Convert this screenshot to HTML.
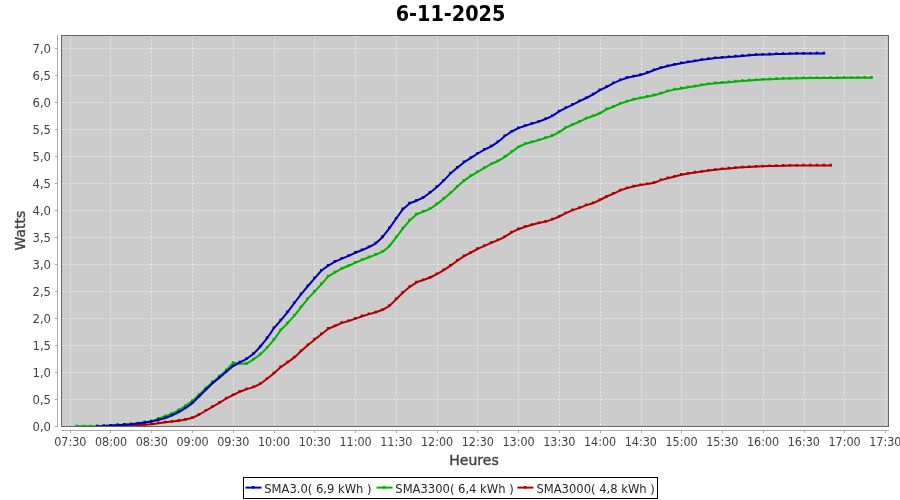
<!DOCTYPE html>
<html lang="fr"><head><meta charset="utf-8"><title>6-11-2025</title>
<style>html,body{margin:0;padding:0;background:#fff;width:900px;height:500px;overflow:hidden}</style></head>
<body>
<svg width="900" height="500" viewBox="0 0 900 500" style="position:absolute;left:0;top:0">
<rect x="0" y="0" width="900" height="500" fill="#ffffff"/>
<rect x="61.5" y="35.5" width="827" height="391" fill="#cccccc"/>
<path d="M70.5,35.3V426M110.5,35.3V426M151.5,35.3V426M192.5,35.3V426M233.5,35.3V426M274.5,35.3V426M314.5,35.3V426M355.5,35.3V426M396.5,35.3V426M437.5,35.3V426M477.5,35.3V426M518.5,35.3V426M559.5,35.3V426M600.5,35.3V426M641.5,35.3V426M681.5,35.3V426M722.5,35.3V426M763.5,35.3V426M804.5,35.3V426M844.5,35.3V426M885.5,35.3V426M61.3,399.5H888M61.3,372.5H888M61.3,345.5H888M61.3,318.5H888M61.3,291.5H888M61.3,264.5H888M61.3,237.5H888M61.3,210.5H888M61.3,183.5H888M61.3,156.5H888M61.3,129.5H888M61.3,102.5H888M61.3,75.5H888M61.3,48.5H888" stroke="#ffffff" stroke-width="1" stroke-dasharray="2 2" fill="none" opacity="0.55"/>
<clipPath id="c"><rect x="61.5" y="35.5" width="827" height="391"/></clipPath>
<g clip-path="url(#c)">
<path d="M97.4,426.5 L104.2,426.3 L111.0,426.2 L117.8,426.0 L124.6,425.9 L131.4,425.7 L138.2,425.2 L145.0,424.7 L151.8,424.2 L158.5,423.2 L165.3,422.3 L172.1,421.6 L178.9,420.7 L185.7,419.5 L192.5,417.8 L199.3,414.5 L206.1,410.5 L212.9,406.6 L219.7,402.6 L226.5,398.4 L233.2,395.0 L240.0,391.7 L246.8,389.1 L253.6,387.1 L260.4,383.8 L267.2,378.8 L274.0,373.3 L280.8,367.1 L287.6,362.4 L294.4,357.4 L301.2,351.1 L308.0,345.1 L314.8,339.4 L321.5,334.2 L328.3,328.7 L335.1,326.0 L341.9,322.9 L348.7,321.0 L355.5,318.6 L362.3,316.2 L369.1,314.1 L375.9,312.3 L382.7,309.8 L389.5,305.9 L396.2,299.2 L403.0,292.5 L409.8,286.8 L416.6,282.3 L423.4,280.0 L430.2,277.5 L437.0,274.1 L443.8,270.1 L450.6,265.6 L457.4,260.7 L464.2,256.2 L471.0,252.5 L477.8,248.8 L484.5,245.8 L491.3,242.8 L498.1,240.1 L504.9,236.8 L511.7,232.3 L518.5,229.2 L525.3,226.7 L532.1,224.8 L538.9,223.0 L545.7,221.6 L552.5,219.4 L559.2,216.5 L566.0,213.2 L572.8,210.1 L579.6,207.9 L586.4,205.1 L593.2,203.2 L600.0,200.0 L606.8,196.5 L613.6,193.7 L620.4,190.3 L627.2,188.1 L634.0,186.3 L640.8,185.0 L647.5,184.0 L654.3,182.7 L661.1,180.1 L667.9,178.2 L674.7,176.5 L681.5,174.7 L688.3,173.5 L695.1,172.4 L701.9,171.6 L708.7,170.6 L715.5,169.8 L722.2,169.0 L729.0,168.4 L735.8,167.8 L742.6,167.2 L749.4,166.9 L756.2,166.6 L763.0,166.3 L769.8,166.1 L776.6,165.9 L783.4,165.7 L790.2,165.6 L797.0,165.5 L803.8,165.4 L810.5,165.4 L817.3,165.4 L824.1,165.4 L830.9,165.4" stroke="#b20000" stroke-width="2" fill="none" stroke-linejoin="round" stroke-linecap="square"/>
<path d="M95.9,424.9h2.5v2.5h-2.5zM102.7,424.7h2.5v2.5h-2.5zM109.5,424.6h2.5v2.5h-2.5zM116.3,424.4h2.5v2.5h-2.5zM123.1,424.3h2.5v2.5h-2.5zM129.9,424.1h2.5v2.5h-2.5zM136.7,423.6h2.5v2.5h-2.5zM143.5,423.1h2.5v2.5h-2.5zM150.2,422.6h2.5v2.5h-2.5zM157.0,421.6h2.5v2.5h-2.5zM163.8,420.7h2.5v2.5h-2.5zM170.6,420.0h2.5v2.5h-2.5zM177.4,419.1h2.5v2.5h-2.5zM184.2,417.9h2.5v2.5h-2.5zM191.0,416.2h2.5v2.5h-2.5zM197.8,412.9h2.5v2.5h-2.5zM204.6,408.9h2.5v2.5h-2.5zM211.4,405.0h2.5v2.5h-2.5zM218.2,401.0h2.5v2.5h-2.5zM225.0,396.8h2.5v2.5h-2.5zM231.8,393.4h2.5v2.5h-2.5zM238.5,390.1h2.5v2.5h-2.5zM245.3,387.5h2.5v2.5h-2.5zM252.1,385.5h2.5v2.5h-2.5zM258.9,382.2h2.5v2.5h-2.5zM265.7,377.2h2.5v2.5h-2.5zM272.5,371.7h2.5v2.5h-2.5zM279.3,365.5h2.5v2.5h-2.5zM286.1,360.8h2.5v2.5h-2.5zM292.9,355.8h2.5v2.5h-2.5zM299.7,349.5h2.5v2.5h-2.5zM306.5,343.5h2.5v2.5h-2.5zM313.2,337.8h2.5v2.5h-2.5zM320.0,332.6h2.5v2.5h-2.5zM326.8,327.1h2.5v2.5h-2.5zM333.6,324.4h2.5v2.5h-2.5zM340.4,321.3h2.5v2.5h-2.5zM347.2,319.4h2.5v2.5h-2.5zM354.0,317.0h2.5v2.5h-2.5zM360.8,314.6h2.5v2.5h-2.5zM367.6,312.5h2.5v2.5h-2.5zM374.4,310.7h2.5v2.5h-2.5zM381.2,308.2h2.5v2.5h-2.5zM388.0,304.3h2.5v2.5h-2.5zM394.8,297.6h2.5v2.5h-2.5zM401.5,290.9h2.5v2.5h-2.5zM408.3,285.2h2.5v2.5h-2.5zM415.1,280.7h2.5v2.5h-2.5zM421.9,278.4h2.5v2.5h-2.5zM428.7,275.9h2.5v2.5h-2.5zM435.5,272.5h2.5v2.5h-2.5zM442.3,268.5h2.5v2.5h-2.5zM449.1,264.0h2.5v2.5h-2.5zM455.9,259.1h2.5v2.5h-2.5zM462.7,254.6h2.5v2.5h-2.5zM469.5,250.9h2.5v2.5h-2.5zM476.2,247.2h2.5v2.5h-2.5zM483.0,244.2h2.5v2.5h-2.5zM489.8,241.2h2.5v2.5h-2.5zM496.6,238.5h2.5v2.5h-2.5zM503.4,235.2h2.5v2.5h-2.5zM510.2,230.7h2.5v2.5h-2.5zM517.0,227.6h2.5v2.5h-2.5zM523.8,225.1h2.5v2.5h-2.5zM530.6,223.2h2.5v2.5h-2.5zM537.4,221.4h2.5v2.5h-2.5zM544.2,220.0h2.5v2.5h-2.5zM551.0,217.8h2.5v2.5h-2.5zM557.8,214.9h2.5v2.5h-2.5zM564.5,211.6h2.5v2.5h-2.5zM571.3,208.5h2.5v2.5h-2.5zM578.1,206.3h2.5v2.5h-2.5zM584.9,203.5h2.5v2.5h-2.5zM591.7,201.6h2.5v2.5h-2.5zM598.5,198.4h2.5v2.5h-2.5zM605.3,194.9h2.5v2.5h-2.5zM612.1,192.1h2.5v2.5h-2.5zM618.9,188.7h2.5v2.5h-2.5zM625.7,186.5h2.5v2.5h-2.5zM632.5,184.7h2.5v2.5h-2.5zM639.2,183.4h2.5v2.5h-2.5zM646.0,182.4h2.5v2.5h-2.5zM652.8,181.1h2.5v2.5h-2.5zM659.6,178.5h2.5v2.5h-2.5zM666.4,176.6h2.5v2.5h-2.5zM673.2,174.9h2.5v2.5h-2.5zM680.0,173.1h2.5v2.5h-2.5zM686.8,171.9h2.5v2.5h-2.5zM693.6,170.8h2.5v2.5h-2.5zM700.4,170.0h2.5v2.5h-2.5zM707.2,169.0h2.5v2.5h-2.5zM714.0,168.2h2.5v2.5h-2.5zM720.8,167.4h2.5v2.5h-2.5zM727.5,166.8h2.5v2.5h-2.5zM734.3,166.2h2.5v2.5h-2.5zM741.1,165.7h2.5v2.5h-2.5zM747.9,165.3h2.5v2.5h-2.5zM754.7,165.0h2.5v2.5h-2.5zM761.5,164.7h2.5v2.5h-2.5zM768.3,164.5h2.5v2.5h-2.5zM775.1,164.3h2.5v2.5h-2.5zM781.9,164.1h2.5v2.5h-2.5zM788.7,164.0h2.5v2.5h-2.5zM795.5,163.9h2.5v2.5h-2.5zM802.2,163.8h2.5v2.5h-2.5zM809.0,163.8h2.5v2.5h-2.5zM815.8,163.8h2.5v2.5h-2.5zM822.6,163.8h2.5v2.5h-2.5zM829.4,163.8h2.5v2.5h-2.5z" fill="#b20000"/>
<path d="M77.0,426.3 L83.8,426.3 L90.6,426.3 L97.4,426.3 L104.2,425.9 L111.0,425.5 L117.8,425.1 L124.6,424.6 L131.4,424.2 L138.2,423.3 L145.0,422.2 L151.8,421.2 L158.5,418.8 L165.3,416.3 L172.1,413.6 L178.9,410.0 L185.7,405.8 L192.5,400.9 L199.3,394.5 L206.1,388.0 L212.9,381.9 L219.7,376.2 L226.5,370.2 L233.2,362.8 L240.0,363.5 L246.8,363.7 L253.6,359.3 L260.4,354.4 L267.2,347.6 L274.0,339.6 L280.8,330.0 L287.6,323.2 L294.4,315.7 L301.2,307.1 L308.0,298.6 L314.8,291.4 L321.5,284.1 L328.3,276.4 L335.1,272.3 L341.9,268.5 L348.7,265.8 L355.5,262.6 L362.3,259.9 L369.1,257.2 L375.9,254.6 L382.7,251.6 L389.5,246.2 L396.2,237.4 L403.0,228.4 L409.8,220.4 L416.6,214.3 L423.4,211.6 L430.2,208.8 L437.0,204.1 L443.8,198.7 L450.6,193.1 L457.4,186.5 L464.2,180.6 L471.0,175.8 L477.8,171.9 L484.5,167.9 L491.3,164.0 L498.1,161.0 L504.9,156.9 L511.7,151.9 L518.5,147.0 L525.3,143.8 L532.1,142.0 L538.9,140.1 L545.7,137.9 L552.5,135.7 L559.2,132.1 L566.0,127.6 L572.8,124.5 L579.6,121.7 L586.4,118.3 L593.2,116.0 L600.0,113.3 L606.8,109.2 L613.6,106.7 L620.4,103.5 L627.2,101.4 L634.0,99.3 L640.8,98.0 L647.5,96.6 L654.3,95.2 L661.1,93.4 L667.9,91.1 L674.7,89.4 L681.5,88.4 L688.3,87.2 L695.1,86.3 L701.9,85.0 L708.7,84.1 L715.5,83.2 L722.2,82.7 L729.0,82.2 L735.8,81.4 L742.6,80.9 L749.4,80.4 L756.2,80.0 L763.0,79.6 L769.8,79.3 L776.6,78.9 L783.4,78.6 L790.2,78.5 L797.0,78.3 L803.8,78.2 L810.5,78.1 L817.3,78.1 L824.1,78.0 L830.9,77.9 L837.7,77.9 L844.5,77.8 L851.3,77.8 L858.1,77.8 L864.9,77.7 L871.7,77.7" stroke="#00b200" stroke-width="2" fill="none" stroke-linejoin="round" stroke-linecap="square"/>
<path d="M75.5,424.7h2.5v2.5h-2.5zM82.3,424.7h2.5v2.5h-2.5zM89.1,424.7h2.5v2.5h-2.5zM95.9,424.7h2.5v2.5h-2.5zM102.7,424.3h2.5v2.5h-2.5zM109.5,423.9h2.5v2.5h-2.5zM116.3,423.5h2.5v2.5h-2.5zM123.1,423.0h2.5v2.5h-2.5zM129.9,422.6h2.5v2.5h-2.5zM136.7,421.7h2.5v2.5h-2.5zM143.5,420.6h2.5v2.5h-2.5zM150.2,419.6h2.5v2.5h-2.5zM157.0,417.2h2.5v2.5h-2.5zM163.8,414.7h2.5v2.5h-2.5zM170.6,412.0h2.5v2.5h-2.5zM177.4,408.4h2.5v2.5h-2.5zM184.2,404.2h2.5v2.5h-2.5zM191.0,399.3h2.5v2.5h-2.5zM197.8,392.9h2.5v2.5h-2.5zM204.6,386.4h2.5v2.5h-2.5zM211.4,380.3h2.5v2.5h-2.5zM218.2,374.6h2.5v2.5h-2.5zM225.0,368.6h2.5v2.5h-2.5zM231.8,361.2h2.5v2.5h-2.5zM238.5,361.9h2.5v2.5h-2.5zM245.3,362.1h2.5v2.5h-2.5zM252.1,357.7h2.5v2.5h-2.5zM258.9,352.8h2.5v2.5h-2.5zM265.7,346.0h2.5v2.5h-2.5zM272.5,338.0h2.5v2.5h-2.5zM279.3,328.4h2.5v2.5h-2.5zM286.1,321.6h2.5v2.5h-2.5zM292.9,314.1h2.5v2.5h-2.5zM299.7,305.5h2.5v2.5h-2.5zM306.5,297.0h2.5v2.5h-2.5zM313.2,289.8h2.5v2.5h-2.5zM320.0,282.5h2.5v2.5h-2.5zM326.8,274.8h2.5v2.5h-2.5zM333.6,270.7h2.5v2.5h-2.5zM340.4,266.9h2.5v2.5h-2.5zM347.2,264.2h2.5v2.5h-2.5zM354.0,261.0h2.5v2.5h-2.5zM360.8,258.3h2.5v2.5h-2.5zM367.6,255.6h2.5v2.5h-2.5zM374.4,253.0h2.5v2.5h-2.5zM381.2,250.0h2.5v2.5h-2.5zM388.0,244.6h2.5v2.5h-2.5zM394.8,235.8h2.5v2.5h-2.5zM401.5,226.8h2.5v2.5h-2.5zM408.3,218.8h2.5v2.5h-2.5zM415.1,212.7h2.5v2.5h-2.5zM421.9,210.0h2.5v2.5h-2.5zM428.7,207.2h2.5v2.5h-2.5zM435.5,202.5h2.5v2.5h-2.5zM442.3,197.1h2.5v2.5h-2.5zM449.1,191.5h2.5v2.5h-2.5zM455.9,184.9h2.5v2.5h-2.5zM462.7,179.0h2.5v2.5h-2.5zM469.5,174.2h2.5v2.5h-2.5zM476.2,170.3h2.5v2.5h-2.5zM483.0,166.3h2.5v2.5h-2.5zM489.8,162.4h2.5v2.5h-2.5zM496.6,159.4h2.5v2.5h-2.5zM503.4,155.3h2.5v2.5h-2.5zM510.2,150.3h2.5v2.5h-2.5zM517.0,145.4h2.5v2.5h-2.5zM523.8,142.2h2.5v2.5h-2.5zM530.6,140.4h2.5v2.5h-2.5zM537.4,138.5h2.5v2.5h-2.5zM544.2,136.3h2.5v2.5h-2.5zM551.0,134.1h2.5v2.5h-2.5zM557.8,130.5h2.5v2.5h-2.5zM564.5,126.0h2.5v2.5h-2.5zM571.3,122.9h2.5v2.5h-2.5zM578.1,120.1h2.5v2.5h-2.5zM584.9,116.7h2.5v2.5h-2.5zM591.7,114.4h2.5v2.5h-2.5zM598.5,111.7h2.5v2.5h-2.5zM605.3,107.6h2.5v2.5h-2.5zM612.1,105.1h2.5v2.5h-2.5zM618.9,101.9h2.5v2.5h-2.5zM625.7,99.8h2.5v2.5h-2.5zM632.5,97.7h2.5v2.5h-2.5zM639.2,96.4h2.5v2.5h-2.5zM646.0,95.0h2.5v2.5h-2.5zM652.8,93.6h2.5v2.5h-2.5zM659.6,91.8h2.5v2.5h-2.5zM666.4,89.5h2.5v2.5h-2.5zM673.2,87.8h2.5v2.5h-2.5zM680.0,86.8h2.5v2.5h-2.5zM686.8,85.6h2.5v2.5h-2.5zM693.6,84.7h2.5v2.5h-2.5zM700.4,83.4h2.5v2.5h-2.5zM707.2,82.5h2.5v2.5h-2.5zM714.0,81.6h2.5v2.5h-2.5zM720.8,81.1h2.5v2.5h-2.5zM727.5,80.6h2.5v2.5h-2.5zM734.3,79.8h2.5v2.5h-2.5zM741.1,79.3h2.5v2.5h-2.5zM747.9,78.8h2.5v2.5h-2.5zM754.7,78.4h2.5v2.5h-2.5zM761.5,78.0h2.5v2.5h-2.5zM768.3,77.7h2.5v2.5h-2.5zM775.1,77.3h2.5v2.5h-2.5zM781.9,77.0h2.5v2.5h-2.5zM788.7,76.9h2.5v2.5h-2.5zM795.5,76.7h2.5v2.5h-2.5zM802.2,76.6h2.5v2.5h-2.5zM809.0,76.5h2.5v2.5h-2.5zM815.8,76.5h2.5v2.5h-2.5zM822.6,76.4h2.5v2.5h-2.5zM829.4,76.3h2.5v2.5h-2.5zM836.2,76.3h2.5v2.5h-2.5zM843.0,76.2h2.5v2.5h-2.5zM849.8,76.2h2.5v2.5h-2.5zM856.6,76.2h2.5v2.5h-2.5zM863.4,76.1h2.5v2.5h-2.5zM870.2,76.1h2.5v2.5h-2.5z" fill="#00b200"/>
<path d="M97.4,426.4 L104.2,426.0 L111.0,425.6 L117.8,425.2 L124.6,424.7 L131.4,424.3 L138.2,423.5 L145.0,422.5 L151.8,421.6 L158.5,419.9 L165.3,418.1 L172.1,415.4 L178.9,412.1 L185.7,408.0 L192.5,403.1 L199.3,396.3 L206.1,389.5 L212.9,383.1 L219.7,377.4 L226.5,371.6 L233.2,366.1 L240.0,362.3 L246.8,358.8 L253.6,353.8 L260.4,346.5 L267.2,338.2 L274.0,328.0 L280.8,320.4 L287.6,312.2 L294.4,303.0 L301.2,294.1 L308.0,286.0 L314.8,278.2 L321.5,270.5 L328.3,265.6 L335.1,261.7 L341.9,258.6 L348.7,255.9 L355.5,252.7 L362.3,250.0 L369.1,247.2 L375.9,243.3 L382.7,236.9 L389.5,228.1 L396.2,218.5 L403.0,209.2 L409.8,203.3 L416.6,200.7 L423.4,197.5 L430.2,192.5 L437.0,186.9 L443.8,180.6 L450.6,173.4 L457.4,167.6 L464.2,162.2 L471.0,157.9 L477.8,153.5 L484.5,149.7 L491.3,146.4 L498.1,141.9 L504.9,136.0 L511.7,131.5 L518.5,128.1 L525.3,125.8 L532.1,123.6 L538.9,121.6 L545.7,119.0 L552.5,115.9 L559.2,111.4 L566.0,107.8 L572.8,104.7 L579.6,101.1 L586.4,98.0 L593.2,94.4 L600.0,90.2 L606.8,86.8 L613.6,83.1 L620.4,80.1 L627.2,77.7 L634.0,76.3 L640.8,74.9 L647.5,72.7 L654.3,70.0 L661.1,67.8 L667.9,66.0 L674.7,64.6 L681.5,63.2 L688.3,62.0 L695.1,61.1 L701.9,59.8 L708.7,58.9 L715.5,58.0 L722.2,57.5 L729.0,57.0 L735.8,56.4 L742.6,55.9 L749.4,55.3 L756.2,54.8 L763.0,54.6 L769.8,54.4 L776.6,54.1 L783.4,53.9 L790.2,53.8 L797.0,53.6 L803.8,53.5 L810.5,53.5 L817.3,53.4 L824.1,53.4" stroke="#0000b2" stroke-width="2" fill="none" stroke-linejoin="round" stroke-linecap="square"/>
<path d="M95.9,424.8h2.5v2.5h-2.5zM102.7,424.4h2.5v2.5h-2.5zM109.5,424.0h2.5v2.5h-2.5zM116.3,423.6h2.5v2.5h-2.5zM123.1,423.1h2.5v2.5h-2.5zM129.9,422.7h2.5v2.5h-2.5zM136.7,421.9h2.5v2.5h-2.5zM143.5,420.9h2.5v2.5h-2.5zM150.2,420.0h2.5v2.5h-2.5zM157.0,418.3h2.5v2.5h-2.5zM163.8,416.5h2.5v2.5h-2.5zM170.6,413.8h2.5v2.5h-2.5zM177.4,410.5h2.5v2.5h-2.5zM184.2,406.4h2.5v2.5h-2.5zM191.0,401.5h2.5v2.5h-2.5zM197.8,394.7h2.5v2.5h-2.5zM204.6,387.9h2.5v2.5h-2.5zM211.4,381.5h2.5v2.5h-2.5zM218.2,375.8h2.5v2.5h-2.5zM225.0,370.0h2.5v2.5h-2.5zM231.8,364.5h2.5v2.5h-2.5zM238.5,360.7h2.5v2.5h-2.5zM245.3,357.2h2.5v2.5h-2.5zM252.1,352.2h2.5v2.5h-2.5zM258.9,344.9h2.5v2.5h-2.5zM265.7,336.6h2.5v2.5h-2.5zM272.5,326.4h2.5v2.5h-2.5zM279.3,318.8h2.5v2.5h-2.5zM286.1,310.6h2.5v2.5h-2.5zM292.9,301.4h2.5v2.5h-2.5zM299.7,292.5h2.5v2.5h-2.5zM306.5,284.4h2.5v2.5h-2.5zM313.2,276.6h2.5v2.5h-2.5zM320.0,268.9h2.5v2.5h-2.5zM326.8,264.0h2.5v2.5h-2.5zM333.6,260.1h2.5v2.5h-2.5zM340.4,257.0h2.5v2.5h-2.5zM347.2,254.3h2.5v2.5h-2.5zM354.0,251.1h2.5v2.5h-2.5zM360.8,248.4h2.5v2.5h-2.5zM367.6,245.6h2.5v2.5h-2.5zM374.4,241.7h2.5v2.5h-2.5zM381.2,235.3h2.5v2.5h-2.5zM388.0,226.5h2.5v2.5h-2.5zM394.8,216.9h2.5v2.5h-2.5zM401.5,207.6h2.5v2.5h-2.5zM408.3,201.7h2.5v2.5h-2.5zM415.1,199.1h2.5v2.5h-2.5zM421.9,195.9h2.5v2.5h-2.5zM428.7,190.9h2.5v2.5h-2.5zM435.5,185.3h2.5v2.5h-2.5zM442.3,179.0h2.5v2.5h-2.5zM449.1,171.8h2.5v2.5h-2.5zM455.9,166.0h2.5v2.5h-2.5zM462.7,160.6h2.5v2.5h-2.5zM469.5,156.3h2.5v2.5h-2.5zM476.2,151.9h2.5v2.5h-2.5zM483.0,148.1h2.5v2.5h-2.5zM489.8,144.8h2.5v2.5h-2.5zM496.6,140.3h2.5v2.5h-2.5zM503.4,134.4h2.5v2.5h-2.5zM510.2,129.9h2.5v2.5h-2.5zM517.0,126.5h2.5v2.5h-2.5zM523.8,124.2h2.5v2.5h-2.5zM530.6,122.0h2.5v2.5h-2.5zM537.4,120.0h2.5v2.5h-2.5zM544.2,117.4h2.5v2.5h-2.5zM551.0,114.3h2.5v2.5h-2.5zM557.8,109.8h2.5v2.5h-2.5zM564.5,106.2h2.5v2.5h-2.5zM571.3,103.1h2.5v2.5h-2.5zM578.1,99.5h2.5v2.5h-2.5zM584.9,96.4h2.5v2.5h-2.5zM591.7,92.8h2.5v2.5h-2.5zM598.5,88.6h2.5v2.5h-2.5zM605.3,85.2h2.5v2.5h-2.5zM612.1,81.5h2.5v2.5h-2.5zM618.9,78.5h2.5v2.5h-2.5zM625.7,76.1h2.5v2.5h-2.5zM632.5,74.7h2.5v2.5h-2.5zM639.2,73.3h2.5v2.5h-2.5zM646.0,71.1h2.5v2.5h-2.5zM652.8,68.4h2.5v2.5h-2.5zM659.6,66.2h2.5v2.5h-2.5zM666.4,64.4h2.5v2.5h-2.5zM673.2,63.0h2.5v2.5h-2.5zM680.0,61.6h2.5v2.5h-2.5zM686.8,60.4h2.5v2.5h-2.5zM693.6,59.5h2.5v2.5h-2.5zM700.4,58.2h2.5v2.5h-2.5zM707.2,57.3h2.5v2.5h-2.5zM714.0,56.4h2.5v2.5h-2.5zM720.8,55.9h2.5v2.5h-2.5zM727.5,55.4h2.5v2.5h-2.5zM734.3,54.8h2.5v2.5h-2.5zM741.1,54.3h2.5v2.5h-2.5zM747.9,53.7h2.5v2.5h-2.5zM754.7,53.2h2.5v2.5h-2.5zM761.5,53.0h2.5v2.5h-2.5zM768.3,52.8h2.5v2.5h-2.5zM775.1,52.5h2.5v2.5h-2.5zM781.9,52.3h2.5v2.5h-2.5zM788.7,52.2h2.5v2.5h-2.5zM795.5,52.0h2.5v2.5h-2.5zM802.2,51.9h2.5v2.5h-2.5zM809.0,51.9h2.5v2.5h-2.5zM815.8,51.8h2.5v2.5h-2.5zM822.6,51.8h2.5v2.5h-2.5z" fill="#0000b2"/>
</g>
<rect x="61.5" y="35.5" width="827" height="391" fill="none" stroke="#666666" stroke-width="1"/>
<path d="M57.5,35V427M55,426.5H57M55,399.5H57M55,372.5H57M55,345.5H57M55,318.5H57M55,291.5H57M55,264.5H57M55,237.5H57M55,210.5H57M55,183.5H57M55,156.5H57M55,129.5H57M55,102.5H57M55,75.5H57M55,48.5H57M61,430.5H889M70.5,431V433M110.5,431V433M151.5,431V433M192.5,431V433M233.5,431V433M274.5,431V433M314.5,431V433M355.5,431V433M396.5,431V433M437.5,431V433M477.5,431V433M518.5,431V433M559.5,431V433M600.5,431V433M641.5,431V433M681.5,431V433M722.5,431V433M763.5,431V433M804.5,431V433M844.5,431V433M885.5,431V433" stroke="#aaaaaa" stroke-width="1" fill="none" shape-rendering="crispEdges"/>
<g font-family="DejaVu Sans, Liberation Sans, sans-serif" font-size="12" fill="#404040">
<text transform="translate(51,430.6) scale(0.97,1)" text-anchor="end">0,0</text>
<text transform="translate(51,403.6) scale(0.97,1)" text-anchor="end">0,5</text>
<text transform="translate(51,376.6) scale(0.97,1)" text-anchor="end">1,0</text>
<text transform="translate(51,349.6) scale(0.97,1)" text-anchor="end">1,5</text>
<text transform="translate(51,322.6) scale(0.97,1)" text-anchor="end">2,0</text>
<text transform="translate(51,295.6) scale(0.97,1)" text-anchor="end">2,5</text>
<text transform="translate(51,268.6) scale(0.97,1)" text-anchor="end">3,0</text>
<text transform="translate(51,241.6) scale(0.97,1)" text-anchor="end">3,5</text>
<text transform="translate(51,214.6) scale(0.97,1)" text-anchor="end">4,0</text>
<text transform="translate(51,187.6) scale(0.97,1)" text-anchor="end">4,5</text>
<text transform="translate(51,160.6) scale(0.97,1)" text-anchor="end">5,0</text>
<text transform="translate(51,133.6) scale(0.97,1)" text-anchor="end">5,5</text>
<text transform="translate(51,106.6) scale(0.97,1)" text-anchor="end">6,0</text>
<text transform="translate(51,79.6) scale(0.97,1)" text-anchor="end">6,5</text>
<text transform="translate(51,52.6) scale(0.97,1)" text-anchor="end">7,0</text>
<text transform="translate(70.35,446) scale(0.935,1)" text-anchor="middle">07:30</text>
<text transform="translate(111.10,446) scale(0.935,1)" text-anchor="middle">08:00</text>
<text transform="translate(151.85,446) scale(0.935,1)" text-anchor="middle">08:30</text>
<text transform="translate(192.60,446) scale(0.935,1)" text-anchor="middle">09:00</text>
<text transform="translate(233.35,446) scale(0.935,1)" text-anchor="middle">09:30</text>
<text transform="translate(274.10,446) scale(0.935,1)" text-anchor="middle">10:00</text>
<text transform="translate(314.85,446) scale(0.935,1)" text-anchor="middle">10:30</text>
<text transform="translate(355.60,446) scale(0.935,1)" text-anchor="middle">11:00</text>
<text transform="translate(396.35,446) scale(0.935,1)" text-anchor="middle">11:30</text>
<text transform="translate(437.10,446) scale(0.935,1)" text-anchor="middle">12:00</text>
<text transform="translate(477.85,446) scale(0.935,1)" text-anchor="middle">12:30</text>
<text transform="translate(518.60,446) scale(0.935,1)" text-anchor="middle">13:00</text>
<text transform="translate(559.35,446) scale(0.935,1)" text-anchor="middle">13:30</text>
<text transform="translate(600.10,446) scale(0.935,1)" text-anchor="middle">14:00</text>
<text transform="translate(640.85,446) scale(0.935,1)" text-anchor="middle">14:30</text>
<text transform="translate(681.60,446) scale(0.935,1)" text-anchor="middle">15:00</text>
<text transform="translate(722.35,446) scale(0.935,1)" text-anchor="middle">15:30</text>
<text transform="translate(763.10,446) scale(0.935,1)" text-anchor="middle">16:00</text>
<text transform="translate(803.85,446) scale(0.935,1)" text-anchor="middle">16:30</text>
<text transform="translate(844.60,446) scale(0.935,1)" text-anchor="middle">17:00</text>
<text transform="translate(885.35,446) scale(0.935,1)" text-anchor="middle">17:30</text>
</g>
<text font-family="DejaVu Sans, Liberation Sans, sans-serif" font-size="14" fill="#404040" stroke="#404040" stroke-width="0.35" x="474" y="465" text-anchor="middle">Heures</text>
<text font-family="DejaVu Sans, Liberation Sans, sans-serif" font-size="14" fill="#404040" stroke="#404040" stroke-width="0.35" transform="translate(25.3,230.6) rotate(-90)" text-anchor="middle">Watts</text>
<text font-family="DejaVu Sans, Liberation Sans, sans-serif" font-weight="bold" font-size="21" fill="#000000" transform="translate(450.5,21) scale(0.917,1)" text-anchor="middle">6-11-2025</text>
<rect x="243.5" y="477.5" width="414" height="21" fill="#ffffff" stroke="#000000" stroke-width="1"/>
<path d="M246.5,487.6h14" stroke="#0000b2" stroke-width="2" stroke-linecap="square"/><rect x="252.0" y="486" width="2.5" height="2.5" fill="#0000b2"/>
<text font-family="DejaVu Sans, Liberation Sans, sans-serif" font-size="12" fill="#262626" transform="translate(264.2,492.7) scale(0.964,1)">SMA3.0( 6,9 kWh )</text>
<path d="M377.5,487.6h14" stroke="#00b200" stroke-width="2" stroke-linecap="square"/><rect x="383.0" y="486" width="2.5" height="2.5" fill="#00b200"/>
<text font-family="DejaVu Sans, Liberation Sans, sans-serif" font-size="12" fill="#262626" transform="translate(395.3,492.7) scale(0.964,1)">SMA3300( 6,4 kWh )</text>
<path d="M518.4,487.6h14" stroke="#b20000" stroke-width="2" stroke-linecap="square"/><rect x="523.9" y="486" width="2.5" height="2.5" fill="#b20000"/>
<text font-family="DejaVu Sans, Liberation Sans, sans-serif" font-size="12" fill="#262626" transform="translate(536.4,492.7) scale(0.964,1)">SMA3000( 4,8 kWh )</text>
</svg>
</body></html>
